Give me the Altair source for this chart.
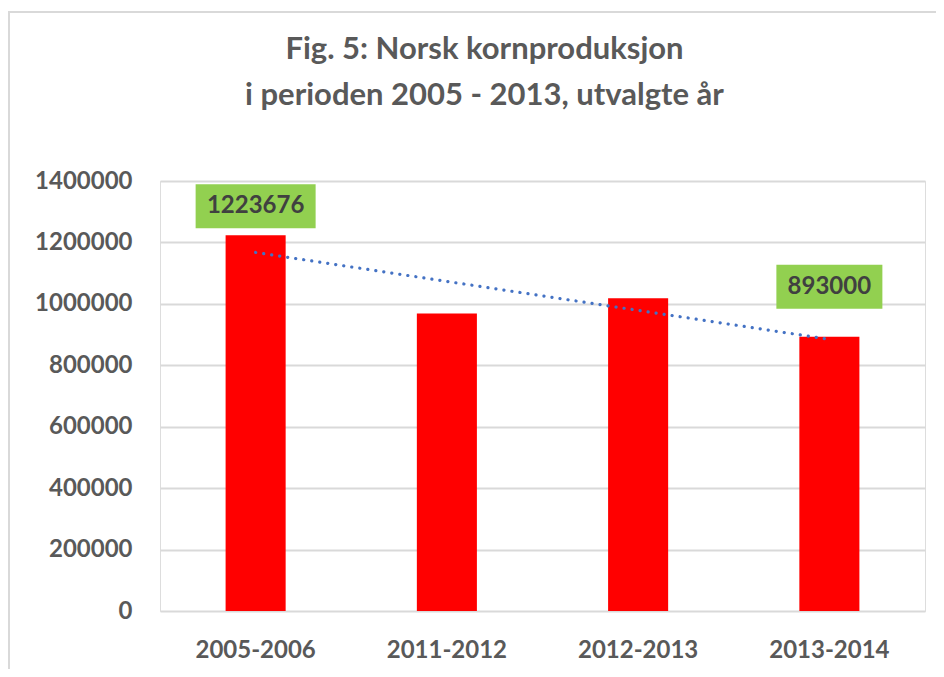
import altair as alt
import numpy as np
import pandas as pd

# ---- data ----
periods = ["2005-2006", "2011-2012", "2012-2013", "2013-2014"]
production = [1223676, 969000, 1018000, 893000]
labelled_first = ["2005-2006"]
labelled_last = ["2013-2014"]
y_ticks = [0, 200000, 400000, 600000, 800000, 1000000, 1200000, 1400000]
title_lines = ["Fig. 5: Norsk kornproduksjon", "i perioden 2005 - 2013, utvalgte år"]

df = pd.DataFrame({"period": periods, "production": production})

# linear trendline (least squares over the category index)
idx = np.arange(len(periods))
slope, intercept = np.polyfit(idx, production, 1)
trend = pd.DataFrame({
    "period": [periods[0], periods[-1]],
    "trend": [intercept + slope * idx[0], intercept + slope * idx[-1]],
})

FONT = "Lato"
GRAY = "#595959"

x_enc = alt.X("period:N", sort=periods, title=None,
              scale=alt.Scale(paddingInner=0.686, paddingOuter=0.343),
              axis=alt.Axis(labelAngle=0, labelFontSize=24, labelFont=FONT,
                            labelFontWeight="bold", labelColor=GRAY,
                            domain=False, ticks=False, tickSize=0,
                            grid=False, labelPadding=27))
y_scale = alt.Scale(domain=[0, 1400000])

bars = alt.Chart(df).mark_bar(color="#FF0000").encode(
    x=x_enc,
    y=alt.Y("production:Q", scale=y_scale, title=None,
            axis=alt.Axis(values=y_ticks, format="d", labelFontSize=24,
                          labelFont=FONT, labelFontWeight="bold",
                          labelColor=GRAY, domain=False, ticks=False,
                          tickSize=0, labelPadding=28,
                          gridColor="#d9d9d9", gridWidth=1.8)),
)

trend_line = alt.Chart(trend).mark_line(
    color="#4472C4", strokeWidth=3.2, strokeDash=[0.1, 8], strokeCap="round"
).encode(
    x=alt.X("period:N", sort=periods),
    y=alt.Y("trend:Q", scale=y_scale),
)

def label_layer(cats, box_w, top_off, bot_off, text_dy):
    base = alt.Chart(df).transform_filter(
        alt.FieldOneOfPredicate(field="period", oneOf=cats)
    )
    box = base.mark_bar(color="#92D050", width=box_w,
                        yOffset=top_off, y2Offset=bot_off).encode(
        x=alt.X("period:N", sort=periods),
        y=alt.Y("production:Q", scale=y_scale),
        y2=alt.Y2("production:Q"),
    )
    txt = base.mark_text(dy=text_dy, fontSize=24, font=FONT,
                         fontWeight="bold", color="#404040").encode(
        x=alt.X("period:N", sort=periods),
        y=alt.Y("production:Q", scale=y_scale),
        text=alt.Text("production:Q", format="d"),
    )
    return box + txt

lab1 = label_layer(labelled_first, 120, -51, -7, -29)
lab2 = label_layer(labelled_last, 106, -72, -28, -50)

frame_data = alt.Data(values=[{"a": 1}])
frame_left = alt.Chart(frame_data).mark_rule(color="#d9d9d9", strokeWidth=2).encode(
    x=alt.value(-151), y=alt.value(-169), y2=alt.value(500))
frame_top = alt.Chart(frame_data).mark_rule(color="#d9d9d9", strokeWidth=2).encode(
    x=alt.value(-152), x2=alt.value(800), y=alt.value(-169))

chart = alt.layer(
    frame_left, frame_top, bars, trend_line, lab1, lab2
).properties(
    width=765, height=430,
    title=alt.TitleParams(text=title_lines, fontSize=31, font=FONT,
                          fontWeight="bold", color=GRAY, anchor="middle",
                          frame="group", dx=-58, offset=-101, lineHeight=46),
    autosize=alt.AutoSizeParams(type="none"),
    padding={"left": 152, "top": 173, "right": 11, "bottom": 58},
).configure_view(strokeWidth=0).configure(background="white")

chart.save("out.html", embed_options={"renderer": "svg", "actions": False})
